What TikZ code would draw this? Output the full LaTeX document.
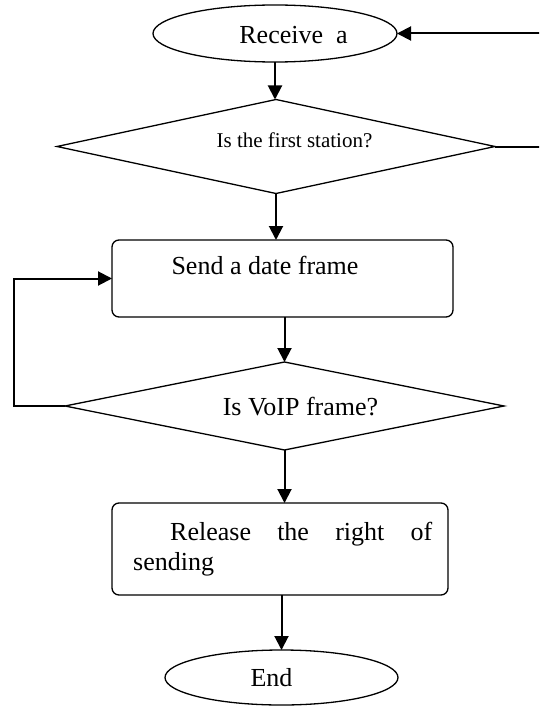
\documentclass[tikz,border=0pt]{standalone}
\usepackage{fontspec}
\setmainfont{Liberation Serif}
\usetikzlibrary{shapes.geometric,arrows.meta}
\begin{document}
\begin{tikzpicture}[x=1pt,y=-1pt,
  shp/.style={draw, line width=1.3pt, inner sep=0pt, outer sep=0pt},
  term/.style={shp, ellipse},
  proc/.style={shp, rectangle, rounded corners=7pt},
  dec/.style={shp, diamond},
  lbl/.style={inner sep=0pt, font=\fontsize{26}{30}\selectfont},
  arr/.style={line width=2pt, -{Triangle[length=14pt,width=14pt]}}]
\useasboundingbox (0,0) rectangle (539,706);
\clip (0,0) rectangle (539,706);
% shapes
\node[term, minimum width=244pt, minimum height=57pt] (recv) at (275,33.5) {};
\node[dec, minimum width=438pt, minimum height=94pt] (d1) at (276,146.5) {};
\node[proc, minimum width=341pt, minimum height=77pt] (send) at (282.5,278.5) {};
\node[dec, minimum width=439pt, minimum height=88pt] (d2) at (284.5,406) {};
\node[proc, minimum width=336pt, minimum height=92pt] (rel) at (280,549) {};
\node[term, minimum width=233pt, minimum height=55pt] (end) at (281.5,677.5) {};
% texts
\node[lbl] (trecv) at (293.5,35) {Receive\ \ a};
\node[lbl, font=\fontsize{21}{25}\selectfont] (td1) at (294.5,140) {Is the first station?};
\node[lbl] (tsend) at (265,265) {Send a date frame};
\node[lbl] (td2) at (300.5,407) {Is VoIP frame?};
\node[lbl, text width=299pt, align=justify, anchor=north west] (trel) at (133,521.5)
  {\hspace*{37pt}Release the right of\linebreak sending};
\node[lbl] (tend) at (271.5,678) {End};
% connectors
\draw[arr] (recv.south) -- (recv.south |- d1.north);
\draw[arr] (d1.south) -- (d1.south |- send.north);
\draw[arr] (send.south -| d2.north) -- (d2.north);
\draw[arr] (d2.south) -- (d2.south |- rel.north);
\draw[arr] (rel.south -| end.north) -- (end.north);
\draw[arr] (d2.west) -- ++(-51,0) |- (send.west);
\draw[arr] (d1.east) -- ++(70,0) |- (recv.east);
\end{tikzpicture}
\end{document}
